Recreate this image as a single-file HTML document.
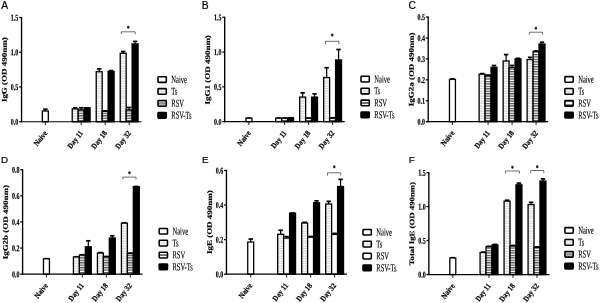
<!DOCTYPE html>
<html><head><meta charset="utf-8"><title>Figure</title>
<style>html,body{margin:0;padding:0;background:#fff}svg{display:block}</style></head>
<body>
<svg width="600" height="303" viewBox="0 0 600 303">
<defs>
<pattern id="dots" width="2.5" height="2.5" patternUnits="userSpaceOnUse">
<rect width="2.5" height="2.5" fill="#fff"/>
<rect x="0.3" y="0.6" width="1.9" height="0.9" fill="#b8b8b8"/>
</pattern>
<pattern id="stripes" width="4" height="2.45" patternUnits="userSpaceOnUse">
<rect width="4" height="2.45" fill="#fff"/>
<rect x="0" y="0" width="4" height="1.25" fill="#505050"/>
</pattern>
<linearGradient id="lstripe" x1="0" y1="0" x2="0" y2="1"><stop offset="0" stop-color="#d8d8d8"/><stop offset="0.5" stop-color="#8c8c8c"/><stop offset="1" stop-color="#d8d8d8"/></linearGradient>
<linearGradient id="ldots" x1="0" y1="0" x2="0" y2="1"><stop offset="0" stop-color="#fff"/><stop offset="0.5" stop-color="#e2e2e2"/><stop offset="1" stop-color="#fff"/></linearGradient>
<linearGradient id="lmid" x1="0" y1="0" x2="0" y2="1"><stop offset="0" stop-color="#fff"/><stop offset="0.3" stop-color="#fff"/><stop offset="0.42" stop-color="#707070"/><stop offset="0.62" stop-color="#707070"/><stop offset="0.74" stop-color="#fff"/><stop offset="1" stop-color="#fff"/></linearGradient>
<linearGradient id="ledge" x1="0" y1="0" x2="0" y2="1"><stop offset="0" stop-color="#606060"/><stop offset="0.25" stop-color="#606060"/><stop offset="0.38" stop-color="#fff"/><stop offset="0.62" stop-color="#fff"/><stop offset="0.75" stop-color="#606060"/><stop offset="1" stop-color="#606060"/></linearGradient>
</defs>
<rect width="600" height="303" fill="#fff"/>
<line x1="45.35" y1="110.98" x2="45.35" y2="108.89" stroke="#000" stroke-width="1.25"/>
<line x1="43.15" y1="109.19" x2="47.55" y2="109.19" stroke="#000" stroke-width="1.7"/>
<rect x="42.37" y="110.98" width="5.96" height="10.77" fill="#fff" stroke="#000" stroke-width="1.3"/>
<line x1="75.20" y1="108.89" x2="75.20" y2="107.50" stroke="#000" stroke-width="1.25"/>
<line x1="73.00" y1="107.80" x2="77.41" y2="107.80" stroke="#000" stroke-width="1.7"/>
<rect x="72.23" y="108.89" width="5.95" height="12.86" fill="url(#dots)" stroke="#000" stroke-width="1.3"/>
<line x1="81.16" y1="109.94" x2="81.16" y2="107.50" stroke="#000" stroke-width="1.25"/>
<line x1="78.95" y1="107.80" x2="83.36" y2="107.80" stroke="#000" stroke-width="1.7"/>
<rect x="78.18" y="109.94" width="5.95" height="11.81" fill="url(#stripes)" stroke="#000" stroke-width="1.3"/>
<line x1="87.11" y1="107.85" x2="87.11" y2="107.50" stroke="#000" stroke-width="1.25"/>
<line x1="84.91" y1="107.80" x2="89.31" y2="107.80" stroke="#000" stroke-width="1.7"/>
<rect x="84.13" y="107.85" width="5.95" height="13.90" fill="#000" stroke="#000" stroke-width="1.3"/>
<line x1="99.20" y1="71.71" x2="99.20" y2="68.58" stroke="#000" stroke-width="1.25"/>
<line x1="97.00" y1="68.88" x2="101.41" y2="68.88" stroke="#000" stroke-width="1.7"/>
<rect x="96.23" y="71.71" width="5.95" height="50.04" fill="url(#dots)" stroke="#000" stroke-width="1.3"/>
<line x1="105.16" y1="111.33" x2="105.16" y2="110.63" stroke="#000" stroke-width="1.25"/>
<line x1="102.95" y1="110.93" x2="107.36" y2="110.93" stroke="#000" stroke-width="1.7"/>
<rect x="102.18" y="111.33" width="5.95" height="10.42" fill="url(#stripes)" stroke="#000" stroke-width="1.3"/>
<line x1="111.11" y1="71.36" x2="111.11" y2="70.32" stroke="#000" stroke-width="1.25"/>
<line x1="108.91" y1="70.62" x2="113.31" y2="70.62" stroke="#000" stroke-width="1.7"/>
<rect x="108.13" y="71.36" width="5.95" height="50.39" fill="#000" stroke="#000" stroke-width="1.3"/>
<line x1="123.20" y1="53.29" x2="123.20" y2="51.21" stroke="#000" stroke-width="1.25"/>
<line x1="121.00" y1="51.51" x2="125.41" y2="51.51" stroke="#000" stroke-width="1.7"/>
<rect x="120.23" y="53.29" width="5.95" height="68.46" fill="url(#dots)" stroke="#000" stroke-width="1.3"/>
<line x1="129.16" y1="109.94" x2="129.16" y2="107.16" stroke="#000" stroke-width="1.25"/>
<line x1="126.95" y1="107.45" x2="131.35" y2="107.45" stroke="#000" stroke-width="1.7"/>
<rect x="126.18" y="109.94" width="5.95" height="11.81" fill="url(#stripes)" stroke="#000" stroke-width="1.3"/>
<line x1="135.10" y1="43.91" x2="135.10" y2="41.13" stroke="#000" stroke-width="1.25"/>
<line x1="132.91" y1="41.43" x2="137.30" y2="41.43" stroke="#000" stroke-width="1.7"/>
<rect x="132.13" y="43.91" width="5.95" height="77.84" fill="#000" stroke="#000" stroke-width="1.3"/>
<line x1="21.55" y1="16.90" x2="21.55" y2="122.25" stroke="#000" stroke-width="1.35"/>
<line x1="21.05" y1="121.75" x2="141.55" y2="121.75" stroke="#000" stroke-width="1.2"/>
<line x1="19.15" y1="121.75" x2="21.55" y2="121.75" stroke="#000" stroke-width="1.25"/>
<text transform="translate(18.35,124.85) scale(0.68,1) rotate(0.4)" font-family="Liberation Serif, serif" font-size="8.8" font-weight="bold" stroke="#000" stroke-width="0.2" text-anchor="end">0.0</text>
<line x1="19.15" y1="87.00" x2="21.55" y2="87.00" stroke="#000" stroke-width="1.25"/>
<text transform="translate(18.35,90.10) scale(0.68,1) rotate(0.4)" font-family="Liberation Serif, serif" font-size="8.8" font-weight="bold" stroke="#000" stroke-width="0.2" text-anchor="end">0.5</text>
<line x1="19.15" y1="52.25" x2="21.55" y2="52.25" stroke="#000" stroke-width="1.25"/>
<text transform="translate(18.35,55.35) scale(0.68,1) rotate(0.4)" font-family="Liberation Serif, serif" font-size="8.8" font-weight="bold" stroke="#000" stroke-width="0.2" text-anchor="end">1.0</text>
<line x1="19.15" y1="17.50" x2="21.55" y2="17.50" stroke="#000" stroke-width="1.25"/>
<text transform="translate(18.35,20.60) scale(0.68,1) rotate(0.4)" font-family="Liberation Serif, serif" font-size="8.8" font-weight="bold" stroke="#000" stroke-width="0.2" text-anchor="end">1.5</text>
<line x1="45.35" y1="121.75" x2="45.35" y2="125.05" stroke="#000" stroke-width="0.9"/>
<text transform="translate(47.70,133.25) rotate(-52) scale(0.79,0.9)" font-family="Liberation Serif, serif" font-size="8.8" font-weight="bold" stroke="#000" stroke-width="0.2" text-anchor="end">Naive</text>
<line x1="81.16" y1="121.75" x2="81.16" y2="125.05" stroke="#000" stroke-width="0.9"/>
<text transform="translate(83.50,133.25) rotate(-52) scale(0.79,0.9)" font-family="Liberation Serif, serif" font-size="8.8" font-weight="bold" stroke="#000" stroke-width="0.2" text-anchor="end">Day 11</text>
<line x1="105.16" y1="121.75" x2="105.16" y2="125.05" stroke="#000" stroke-width="0.9"/>
<text transform="translate(107.50,133.25) rotate(-52) scale(0.79,0.9)" font-family="Liberation Serif, serif" font-size="8.8" font-weight="bold" stroke="#000" stroke-width="0.2" text-anchor="end">Day 18</text>
<line x1="129.16" y1="121.75" x2="129.16" y2="125.05" stroke="#000" stroke-width="0.9"/>
<text transform="translate(131.50,133.25) rotate(-52) scale(0.79,0.9)" font-family="Liberation Serif, serif" font-size="8.8" font-weight="bold" stroke="#000" stroke-width="0.2" text-anchor="end">Day 32</text>
<text transform="translate(6.60,69.70) scale(0.78,1) rotate(-89.6)" font-family="Liberation Serif, serif" font-size="8.98" font-weight="bold" stroke="#000" stroke-width="0.2" text-anchor="middle">IgG (OD 490nm)</text>
<text x="1.30" y="8.90" font-family="Liberation Sans, sans-serif" font-size="10.3" stroke="#000" stroke-width="0.2">A</text>
<polyline points="121.30,34.20 121.30,31.80 135.20,31.80 135.20,34.20" fill="none" stroke="#222" stroke-width="0.65"/>
<text transform="translate(128.25,30.90) scale(0.7,1) rotate(0.4)" font-family="Liberation Serif, serif" font-size="8" stroke="#000" stroke-width="0.3" text-anchor="middle">*</text>
<rect x="158.00" y="76.70" width="8.3" height="5.7" rx="0.7" fill="#fff" stroke="#000" stroke-width="1.55"/>
<text transform="translate(171.30,82.80) scale(0.62,1) rotate(0.4)" font-family="Liberation Serif, serif" font-size="10.5" stroke="#000" stroke-width="0.15" text-anchor="start">Naive</text>
<rect x="158.00" y="88.60" width="8.3" height="5.7" rx="0.7" fill="url(#ldots)" stroke="#000" stroke-width="1.55"/>
<text transform="translate(171.30,94.70) scale(0.62,1) rotate(0.4)" font-family="Liberation Serif, serif" font-size="10.5" stroke="#000" stroke-width="0.15" text-anchor="start">Ts</text>
<rect x="158.00" y="100.50" width="8.3" height="5.7" rx="0.7" fill="url(#lstripe)" stroke="#000" stroke-width="1.55"/>
<text transform="translate(171.30,106.60) scale(0.62,1) rotate(0.4)" font-family="Liberation Serif, serif" font-size="10.5" stroke="#000" stroke-width="0.15" text-anchor="start">RSV</text>
<rect x="158.00" y="112.40" width="8.3" height="5.7" rx="0.7" fill="#000" stroke="#000" stroke-width="1.55"/>
<text transform="translate(171.30,118.50) scale(0.62,1) rotate(0.4)" font-family="Liberation Serif, serif" font-size="10.5" stroke="#000" stroke-width="0.15" text-anchor="start">RSV-Ts</text>
<line x1="248.90" y1="118.17" x2="248.90" y2="117.82" stroke="#000" stroke-width="1.25"/>
<line x1="246.70" y1="118.12" x2="251.10" y2="118.12" stroke="#000" stroke-width="1.7"/>
<rect x="245.92" y="118.17" width="5.96" height="3.48" fill="#fff" stroke="#000" stroke-width="1.3"/>
<line x1="278.66" y1="118.17" x2="278.66" y2="117.82" stroke="#000" stroke-width="1.25"/>
<line x1="276.46" y1="118.12" x2="280.86" y2="118.12" stroke="#000" stroke-width="1.7"/>
<rect x="275.68" y="118.17" width="5.95" height="3.48" fill="url(#dots)" stroke="#000" stroke-width="1.3"/>
<line x1="284.61" y1="118.17" x2="284.61" y2="117.82" stroke="#000" stroke-width="1.25"/>
<line x1="282.41" y1="118.12" x2="286.81" y2="118.12" stroke="#000" stroke-width="1.7"/>
<rect x="281.63" y="118.17" width="5.95" height="3.48" fill="url(#stripes)" stroke="#000" stroke-width="1.3"/>
<line x1="290.56" y1="117.82" x2="290.56" y2="117.47" stroke="#000" stroke-width="1.25"/>
<line x1="288.36" y1="117.77" x2="292.75" y2="117.77" stroke="#000" stroke-width="1.7"/>
<rect x="287.58" y="117.82" width="5.95" height="3.83" fill="#000" stroke="#000" stroke-width="1.3"/>
<line x1="302.66" y1="97.08" x2="302.66" y2="92.56" stroke="#000" stroke-width="1.25"/>
<line x1="300.46" y1="92.86" x2="304.86" y2="92.86" stroke="#000" stroke-width="1.7"/>
<rect x="299.68" y="97.08" width="5.95" height="24.57" fill="url(#dots)" stroke="#000" stroke-width="1.3"/>
<line x1="308.61" y1="118.17" x2="308.61" y2="117.82" stroke="#000" stroke-width="1.25"/>
<line x1="306.41" y1="118.12" x2="310.81" y2="118.12" stroke="#000" stroke-width="1.7"/>
<rect x="305.63" y="118.17" width="5.95" height="3.48" fill="url(#stripes)" stroke="#000" stroke-width="1.3"/>
<line x1="314.56" y1="97.08" x2="314.56" y2="93.60" stroke="#000" stroke-width="1.25"/>
<line x1="312.36" y1="93.90" x2="316.75" y2="93.90" stroke="#000" stroke-width="1.7"/>
<rect x="311.58" y="97.08" width="5.95" height="24.57" fill="#000" stroke="#000" stroke-width="1.3"/>
<line x1="326.66" y1="77.52" x2="326.66" y2="67.43" stroke="#000" stroke-width="1.25"/>
<line x1="324.46" y1="67.73" x2="328.86" y2="67.73" stroke="#000" stroke-width="1.7"/>
<rect x="323.68" y="77.52" width="5.95" height="44.13" fill="url(#dots)" stroke="#000" stroke-width="1.3"/>
<line x1="332.61" y1="118.17" x2="332.61" y2="117.47" stroke="#000" stroke-width="1.25"/>
<line x1="330.41" y1="117.77" x2="334.81" y2="117.77" stroke="#000" stroke-width="1.7"/>
<rect x="329.63" y="118.17" width="5.95" height="3.48" fill="url(#stripes)" stroke="#000" stroke-width="1.3"/>
<line x1="338.56" y1="59.98" x2="338.56" y2="49.20" stroke="#000" stroke-width="1.25"/>
<line x1="336.36" y1="49.50" x2="340.75" y2="49.50" stroke="#000" stroke-width="1.7"/>
<rect x="335.58" y="59.98" width="5.95" height="61.67" fill="#000" stroke="#000" stroke-width="1.3"/>
<line x1="224.70" y1="16.65" x2="224.70" y2="122.15" stroke="#000" stroke-width="1.35"/>
<line x1="224.20" y1="121.65" x2="344.70" y2="121.65" stroke="#000" stroke-width="1.2"/>
<line x1="222.30" y1="121.65" x2="224.70" y2="121.65" stroke="#000" stroke-width="1.25"/>
<text transform="translate(221.50,124.75) scale(0.68,1) rotate(0.4)" font-family="Liberation Serif, serif" font-size="8.8" font-weight="bold" stroke="#000" stroke-width="0.2" text-anchor="end">0.0</text>
<line x1="222.30" y1="86.85" x2="224.70" y2="86.85" stroke="#000" stroke-width="1.25"/>
<text transform="translate(221.50,89.95) scale(0.68,1) rotate(0.4)" font-family="Liberation Serif, serif" font-size="8.8" font-weight="bold" stroke="#000" stroke-width="0.2" text-anchor="end">0.5</text>
<line x1="222.30" y1="52.05" x2="224.70" y2="52.05" stroke="#000" stroke-width="1.25"/>
<text transform="translate(221.50,55.15) scale(0.68,1) rotate(0.4)" font-family="Liberation Serif, serif" font-size="8.8" font-weight="bold" stroke="#000" stroke-width="0.2" text-anchor="end">1.0</text>
<line x1="222.30" y1="17.25" x2="224.70" y2="17.25" stroke="#000" stroke-width="1.25"/>
<text transform="translate(221.50,20.35) scale(0.68,1) rotate(0.4)" font-family="Liberation Serif, serif" font-size="8.8" font-weight="bold" stroke="#000" stroke-width="0.2" text-anchor="end">1.5</text>
<line x1="248.90" y1="121.65" x2="248.90" y2="124.95" stroke="#000" stroke-width="0.9"/>
<text transform="translate(251.25,133.15) rotate(-52) scale(0.79,0.9)" font-family="Liberation Serif, serif" font-size="8.8" font-weight="bold" stroke="#000" stroke-width="0.2" text-anchor="end">Naive</text>
<line x1="284.61" y1="121.65" x2="284.61" y2="124.95" stroke="#000" stroke-width="0.9"/>
<text transform="translate(286.96,133.15) rotate(-52) scale(0.79,0.9)" font-family="Liberation Serif, serif" font-size="8.8" font-weight="bold" stroke="#000" stroke-width="0.2" text-anchor="end">Day 11</text>
<line x1="308.61" y1="121.65" x2="308.61" y2="124.95" stroke="#000" stroke-width="0.9"/>
<text transform="translate(310.96,133.15) rotate(-52) scale(0.79,0.9)" font-family="Liberation Serif, serif" font-size="8.8" font-weight="bold" stroke="#000" stroke-width="0.2" text-anchor="end">Day 18</text>
<line x1="332.61" y1="121.65" x2="332.61" y2="124.95" stroke="#000" stroke-width="0.9"/>
<text transform="translate(334.96,133.15) rotate(-52) scale(0.79,0.9)" font-family="Liberation Serif, serif" font-size="8.8" font-weight="bold" stroke="#000" stroke-width="0.2" text-anchor="end">Day 32</text>
<text transform="translate(209.90,69.80) scale(0.78,1) rotate(-89.6)" font-family="Liberation Serif, serif" font-size="8.98" font-weight="bold" stroke="#000" stroke-width="0.2" text-anchor="middle">IgG1 (OD 490nm)</text>
<text x="201.80" y="8.90" font-family="Liberation Sans, sans-serif" font-size="10.3" stroke="#000" stroke-width="0.2">B</text>
<polyline points="325.40,44.30 325.40,41.30 338.80,41.30 338.80,44.30" fill="none" stroke="#222" stroke-width="0.65"/>
<text transform="translate(332.10,38.80) scale(0.7,1) rotate(0.4)" font-family="Liberation Serif, serif" font-size="8" stroke="#000" stroke-width="0.3" text-anchor="middle">*</text>
<rect x="361.00" y="76.30" width="8.3" height="5.7" rx="0.7" fill="#fff" stroke="#000" stroke-width="1.55"/>
<text transform="translate(374.30,82.40) scale(0.62,1) rotate(0.4)" font-family="Liberation Serif, serif" font-size="10.5" stroke="#000" stroke-width="0.15" text-anchor="start">Naive</text>
<rect x="361.00" y="88.20" width="8.3" height="5.7" rx="0.7" fill="url(#ldots)" stroke="#000" stroke-width="1.55"/>
<text transform="translate(374.30,94.30) scale(0.62,1) rotate(0.4)" font-family="Liberation Serif, serif" font-size="10.5" stroke="#000" stroke-width="0.15" text-anchor="start">Ts</text>
<rect x="361.00" y="100.10" width="8.3" height="5.7" rx="0.7" fill="url(#lmid)" stroke="#000" stroke-width="1.55"/>
<text transform="translate(374.30,106.20) scale(0.62,1) rotate(0.4)" font-family="Liberation Serif, serif" font-size="10.5" stroke="#000" stroke-width="0.15" text-anchor="start">RSV</text>
<rect x="361.00" y="112.00" width="8.3" height="5.7" rx="0.7" fill="#000" stroke="#000" stroke-width="1.55"/>
<text transform="translate(374.30,118.10) scale(0.62,1) rotate(0.4)" font-family="Liberation Serif, serif" font-size="10.5" stroke="#000" stroke-width="0.15" text-anchor="start">RSV-Ts</text>
<line x1="452.45" y1="79.39" x2="452.45" y2="78.55" stroke="#000" stroke-width="1.25"/>
<line x1="450.25" y1="78.85" x2="454.65" y2="78.85" stroke="#000" stroke-width="1.7"/>
<rect x="449.47" y="79.39" width="5.96" height="42.26" fill="#fff" stroke="#000" stroke-width="1.3"/>
<line x1="482.11" y1="74.16" x2="482.11" y2="73.32" stroke="#000" stroke-width="1.25"/>
<line x1="479.91" y1="73.62" x2="484.31" y2="73.62" stroke="#000" stroke-width="1.7"/>
<rect x="479.13" y="74.16" width="5.95" height="47.49" fill="url(#dots)" stroke="#000" stroke-width="1.3"/>
<line x1="488.06" y1="75.63" x2="488.06" y2="74.79" stroke="#000" stroke-width="1.25"/>
<line x1="485.86" y1="75.09" x2="490.25" y2="75.09" stroke="#000" stroke-width="1.7"/>
<rect x="485.08" y="75.63" width="5.95" height="46.02" fill="url(#stripes)" stroke="#000" stroke-width="1.3"/>
<line x1="494.00" y1="67.26" x2="494.00" y2="65.17" stroke="#000" stroke-width="1.25"/>
<line x1="491.81" y1="65.47" x2="496.20" y2="65.47" stroke="#000" stroke-width="1.7"/>
<rect x="491.03" y="67.26" width="5.95" height="54.39" fill="#000" stroke="#000" stroke-width="1.3"/>
<line x1="506.11" y1="60.98" x2="506.11" y2="54.29" stroke="#000" stroke-width="1.25"/>
<line x1="503.91" y1="54.59" x2="508.31" y2="54.59" stroke="#000" stroke-width="1.7"/>
<rect x="503.13" y="60.98" width="5.95" height="60.67" fill="url(#dots)" stroke="#000" stroke-width="1.3"/>
<line x1="512.05" y1="67.68" x2="512.05" y2="65.17" stroke="#000" stroke-width="1.25"/>
<line x1="509.85" y1="65.47" x2="514.25" y2="65.47" stroke="#000" stroke-width="1.7"/>
<rect x="509.08" y="67.68" width="5.95" height="53.97" fill="url(#stripes)" stroke="#000" stroke-width="1.3"/>
<line x1="518.00" y1="58.89" x2="518.00" y2="58.05" stroke="#000" stroke-width="1.25"/>
<line x1="515.80" y1="58.35" x2="520.21" y2="58.35" stroke="#000" stroke-width="1.7"/>
<rect x="515.03" y="58.89" width="5.95" height="62.76" fill="#000" stroke="#000" stroke-width="1.3"/>
<line x1="530.11" y1="59.52" x2="530.11" y2="57.01" stroke="#000" stroke-width="1.25"/>
<line x1="527.90" y1="57.31" x2="532.31" y2="57.31" stroke="#000" stroke-width="1.7"/>
<rect x="527.13" y="59.52" width="5.95" height="62.13" fill="url(#dots)" stroke="#000" stroke-width="1.3"/>
<line x1="536.06" y1="51.36" x2="536.06" y2="50.73" stroke="#000" stroke-width="1.25"/>
<line x1="533.86" y1="51.03" x2="538.26" y2="51.03" stroke="#000" stroke-width="1.7"/>
<rect x="533.08" y="51.36" width="5.95" height="70.29" fill="url(#stripes)" stroke="#000" stroke-width="1.3"/>
<line x1="542.00" y1="44.04" x2="542.00" y2="41.94" stroke="#000" stroke-width="1.25"/>
<line x1="539.80" y1="42.24" x2="544.21" y2="42.24" stroke="#000" stroke-width="1.7"/>
<rect x="539.03" y="44.04" width="5.95" height="77.61" fill="#000" stroke="#000" stroke-width="1.3"/>
<line x1="428.20" y1="16.45" x2="428.20" y2="122.15" stroke="#000" stroke-width="1.35"/>
<line x1="427.70" y1="121.65" x2="548.20" y2="121.65" stroke="#000" stroke-width="1.2"/>
<line x1="425.80" y1="121.65" x2="428.20" y2="121.65" stroke="#000" stroke-width="1.25"/>
<text transform="translate(425.00,124.75) scale(0.68,1) rotate(0.4)" font-family="Liberation Serif, serif" font-size="8.8" font-weight="bold" stroke="#000" stroke-width="0.2" text-anchor="end">0.0</text>
<line x1="425.80" y1="100.73" x2="428.20" y2="100.73" stroke="#000" stroke-width="1.25"/>
<text transform="translate(425.00,103.83) scale(0.68,1) rotate(0.4)" font-family="Liberation Serif, serif" font-size="8.8" font-weight="bold" stroke="#000" stroke-width="0.2" text-anchor="end">0.1</text>
<line x1="425.80" y1="79.81" x2="428.20" y2="79.81" stroke="#000" stroke-width="1.25"/>
<text transform="translate(425.00,82.91) scale(0.68,1) rotate(0.4)" font-family="Liberation Serif, serif" font-size="8.8" font-weight="bold" stroke="#000" stroke-width="0.2" text-anchor="end">0.2</text>
<line x1="425.80" y1="58.89" x2="428.20" y2="58.89" stroke="#000" stroke-width="1.25"/>
<text transform="translate(425.00,61.99) scale(0.68,1) rotate(0.4)" font-family="Liberation Serif, serif" font-size="8.8" font-weight="bold" stroke="#000" stroke-width="0.2" text-anchor="end">0.3</text>
<line x1="425.80" y1="37.97" x2="428.20" y2="37.97" stroke="#000" stroke-width="1.25"/>
<text transform="translate(425.00,41.07) scale(0.68,1) rotate(0.4)" font-family="Liberation Serif, serif" font-size="8.8" font-weight="bold" stroke="#000" stroke-width="0.2" text-anchor="end">0.4</text>
<line x1="425.80" y1="17.05" x2="428.20" y2="17.05" stroke="#000" stroke-width="1.25"/>
<text transform="translate(425.00,20.15) scale(0.68,1) rotate(0.4)" font-family="Liberation Serif, serif" font-size="8.8" font-weight="bold" stroke="#000" stroke-width="0.2" text-anchor="end">0.5</text>
<line x1="452.45" y1="121.65" x2="452.45" y2="124.95" stroke="#000" stroke-width="0.9"/>
<text transform="translate(454.80,133.15) rotate(-52) scale(0.79,0.9)" font-family="Liberation Serif, serif" font-size="8.8" font-weight="bold" stroke="#000" stroke-width="0.2" text-anchor="end">Naive</text>
<line x1="488.06" y1="121.65" x2="488.06" y2="124.95" stroke="#000" stroke-width="0.9"/>
<text transform="translate(490.41,133.15) rotate(-52) scale(0.79,0.9)" font-family="Liberation Serif, serif" font-size="8.8" font-weight="bold" stroke="#000" stroke-width="0.2" text-anchor="end">Day 11</text>
<line x1="512.05" y1="121.65" x2="512.05" y2="124.95" stroke="#000" stroke-width="0.9"/>
<text transform="translate(514.40,133.15) rotate(-52) scale(0.79,0.9)" font-family="Liberation Serif, serif" font-size="8.8" font-weight="bold" stroke="#000" stroke-width="0.2" text-anchor="end">Day 18</text>
<line x1="536.05" y1="121.65" x2="536.05" y2="124.95" stroke="#000" stroke-width="0.9"/>
<text transform="translate(538.40,133.15) rotate(-52) scale(0.79,0.9)" font-family="Liberation Serif, serif" font-size="8.8" font-weight="bold" stroke="#000" stroke-width="0.2" text-anchor="end">Day 32</text>
<text transform="translate(413.70,69.40) scale(0.78,1) rotate(-89.6)" font-family="Liberation Serif, serif" font-size="8.98" font-weight="bold" stroke="#000" stroke-width="0.2" text-anchor="middle">IgG2a (OD 490nm)</text>
<text x="408.50" y="8.90" font-family="Liberation Sans, sans-serif" font-size="10.3" stroke="#000" stroke-width="0.2">C</text>
<polyline points="529.30,34.70 529.30,32.20 542.50,32.20 542.50,34.70" fill="none" stroke="#222" stroke-width="0.65"/>
<text transform="translate(535.90,31.90) scale(0.7,1) rotate(0.4)" font-family="Liberation Serif, serif" font-size="8" stroke="#000" stroke-width="0.3" text-anchor="middle">*</text>
<rect x="564.90" y="76.60" width="8.3" height="5.7" rx="0.7" fill="#fff" stroke="#000" stroke-width="1.55"/>
<text transform="translate(578.20,82.70) scale(0.62,1) rotate(0.4)" font-family="Liberation Serif, serif" font-size="10.5" stroke="#000" stroke-width="0.15" text-anchor="start">Naive</text>
<rect x="564.90" y="88.50" width="8.3" height="5.7" rx="0.7" fill="url(#ldots)" stroke="#000" stroke-width="1.55"/>
<text transform="translate(578.20,94.60) scale(0.62,1) rotate(0.4)" font-family="Liberation Serif, serif" font-size="10.5" stroke="#000" stroke-width="0.15" text-anchor="start">Ts</text>
<rect x="564.90" y="100.40" width="8.3" height="5.7" rx="0.7" fill="url(#ledge)" stroke="#000" stroke-width="1.55"/>
<text transform="translate(578.20,106.50) scale(0.62,1) rotate(0.4)" font-family="Liberation Serif, serif" font-size="10.5" stroke="#000" stroke-width="0.15" text-anchor="start">RSV</text>
<rect x="564.90" y="112.30" width="8.3" height="5.7" rx="0.7" fill="#000" stroke="#000" stroke-width="1.55"/>
<text transform="translate(578.20,118.40) scale(0.62,1) rotate(0.4)" font-family="Liberation Serif, serif" font-size="10.5" stroke="#000" stroke-width="0.15" text-anchor="start">RSV-Ts</text>
<line x1="46.45" y1="258.79" x2="46.45" y2="258.39" stroke="#000" stroke-width="1.25"/>
<line x1="44.25" y1="258.69" x2="48.65" y2="258.69" stroke="#000" stroke-width="1.7"/>
<rect x="43.47" y="258.79" width="5.96" height="15.41" fill="#fff" stroke="#000" stroke-width="1.3"/>
<line x1="76.41" y1="256.96" x2="76.41" y2="256.44" stroke="#000" stroke-width="1.25"/>
<line x1="74.20" y1="256.74" x2="78.61" y2="256.74" stroke="#000" stroke-width="1.7"/>
<rect x="73.43" y="256.96" width="5.95" height="17.24" fill="url(#dots)" stroke="#000" stroke-width="1.3"/>
<line x1="82.36" y1="255.00" x2="82.36" y2="254.48" stroke="#000" stroke-width="1.25"/>
<line x1="80.16" y1="254.78" x2="84.56" y2="254.78" stroke="#000" stroke-width="1.7"/>
<rect x="79.38" y="255.00" width="5.95" height="19.20" fill="url(#stripes)" stroke="#000" stroke-width="1.3"/>
<line x1="88.31" y1="246.77" x2="88.31" y2="240.50" stroke="#000" stroke-width="1.25"/>
<line x1="86.11" y1="240.80" x2="90.51" y2="240.80" stroke="#000" stroke-width="1.7"/>
<rect x="85.33" y="246.77" width="5.95" height="27.43" fill="#000" stroke="#000" stroke-width="1.3"/>
<line x1="100.41" y1="253.04" x2="100.41" y2="252.25" stroke="#000" stroke-width="1.25"/>
<line x1="98.20" y1="252.56" x2="102.61" y2="252.56" stroke="#000" stroke-width="1.7"/>
<rect x="97.43" y="253.04" width="5.95" height="21.16" fill="url(#dots)" stroke="#000" stroke-width="1.3"/>
<line x1="106.36" y1="256.70" x2="106.36" y2="256.17" stroke="#000" stroke-width="1.25"/>
<line x1="104.16" y1="256.47" x2="108.56" y2="256.47" stroke="#000" stroke-width="1.7"/>
<rect x="103.38" y="256.70" width="5.95" height="17.50" fill="url(#stripes)" stroke="#000" stroke-width="1.3"/>
<line x1="112.31" y1="238.02" x2="112.31" y2="235.53" stroke="#000" stroke-width="1.25"/>
<line x1="110.11" y1="235.83" x2="114.51" y2="235.83" stroke="#000" stroke-width="1.7"/>
<rect x="109.33" y="238.02" width="5.95" height="36.18" fill="#000" stroke="#000" stroke-width="1.3"/>
<line x1="124.41" y1="223.13" x2="124.41" y2="222.47" stroke="#000" stroke-width="1.25"/>
<line x1="122.20" y1="222.77" x2="126.61" y2="222.77" stroke="#000" stroke-width="1.7"/>
<rect x="121.43" y="223.13" width="5.95" height="51.07" fill="url(#dots)" stroke="#000" stroke-width="1.3"/>
<line x1="130.36" y1="253.56" x2="130.36" y2="252.78" stroke="#000" stroke-width="1.25"/>
<line x1="128.16" y1="253.08" x2="132.56" y2="253.08" stroke="#000" stroke-width="1.7"/>
<rect x="127.38" y="253.56" width="5.95" height="20.64" fill="url(#stripes)" stroke="#000" stroke-width="1.3"/>
<line x1="136.31" y1="186.68" x2="136.31" y2="186.16" stroke="#000" stroke-width="1.25"/>
<line x1="134.11" y1="186.46" x2="138.50" y2="186.46" stroke="#000" stroke-width="1.7"/>
<rect x="133.33" y="186.68" width="5.95" height="87.52" fill="#000" stroke="#000" stroke-width="1.3"/>
<line x1="22.60" y1="169.10" x2="22.60" y2="274.70" stroke="#000" stroke-width="1.35"/>
<line x1="22.10" y1="274.20" x2="142.60" y2="274.20" stroke="#000" stroke-width="1.2"/>
<line x1="20.20" y1="274.20" x2="22.60" y2="274.20" stroke="#000" stroke-width="1.25"/>
<text transform="translate(19.40,277.30) scale(0.68,1) rotate(0.4)" font-family="Liberation Serif, serif" font-size="8.8" font-weight="bold" stroke="#000" stroke-width="0.2" text-anchor="end">0.0</text>
<line x1="20.20" y1="248.07" x2="22.60" y2="248.07" stroke="#000" stroke-width="1.25"/>
<text transform="translate(19.40,251.17) scale(0.68,1) rotate(0.4)" font-family="Liberation Serif, serif" font-size="8.8" font-weight="bold" stroke="#000" stroke-width="0.2" text-anchor="end">0.2</text>
<line x1="20.20" y1="221.95" x2="22.60" y2="221.95" stroke="#000" stroke-width="1.25"/>
<text transform="translate(19.40,225.05) scale(0.68,1) rotate(0.4)" font-family="Liberation Serif, serif" font-size="8.8" font-weight="bold" stroke="#000" stroke-width="0.2" text-anchor="end">0.4</text>
<line x1="20.20" y1="195.82" x2="22.60" y2="195.82" stroke="#000" stroke-width="1.25"/>
<text transform="translate(19.40,198.92) scale(0.68,1) rotate(0.4)" font-family="Liberation Serif, serif" font-size="8.8" font-weight="bold" stroke="#000" stroke-width="0.2" text-anchor="end">0.6</text>
<line x1="20.20" y1="169.70" x2="22.60" y2="169.70" stroke="#000" stroke-width="1.25"/>
<text transform="translate(19.40,172.80) scale(0.68,1) rotate(0.4)" font-family="Liberation Serif, serif" font-size="8.8" font-weight="bold" stroke="#000" stroke-width="0.2" text-anchor="end">0.8</text>
<line x1="46.45" y1="274.20" x2="46.45" y2="277.50" stroke="#000" stroke-width="0.9"/>
<text transform="translate(48.40,285.70) rotate(-52) scale(0.79,0.9)" font-family="Liberation Serif, serif" font-size="8.8" font-weight="bold" stroke="#000" stroke-width="0.2" text-anchor="end">Naive</text>
<line x1="82.36" y1="274.20" x2="82.36" y2="277.50" stroke="#000" stroke-width="0.9"/>
<text transform="translate(84.30,285.70) rotate(-52) scale(0.79,0.9)" font-family="Liberation Serif, serif" font-size="8.8" font-weight="bold" stroke="#000" stroke-width="0.2" text-anchor="end">Day 11</text>
<line x1="106.36" y1="274.20" x2="106.36" y2="277.50" stroke="#000" stroke-width="0.9"/>
<text transform="translate(108.30,285.70) rotate(-52) scale(0.79,0.9)" font-family="Liberation Serif, serif" font-size="8.8" font-weight="bold" stroke="#000" stroke-width="0.2" text-anchor="end">Day 18</text>
<line x1="130.36" y1="274.20" x2="130.36" y2="277.50" stroke="#000" stroke-width="0.9"/>
<text transform="translate(132.31,285.70) rotate(-52) scale(0.79,0.9)" font-family="Liberation Serif, serif" font-size="8.8" font-weight="bold" stroke="#000" stroke-width="0.2" text-anchor="end">Day 32</text>
<text transform="translate(7.90,222.20) scale(0.78,1) rotate(-89.6)" font-family="Liberation Serif, serif" font-size="8.98" font-weight="bold" stroke="#000" stroke-width="0.2" text-anchor="middle">IgG2b (OD 490nm)</text>
<text x="1.00" y="163.00" font-family="Liberation Sans, sans-serif" font-size="9.9" stroke="#000" stroke-width="0.2">D</text>
<polyline points="122.80,179.60 122.80,177.10 136.00,177.10 136.00,179.60" fill="none" stroke="#222" stroke-width="0.65"/>
<text transform="translate(129.40,176.60) scale(0.7,1) rotate(0.4)" font-family="Liberation Serif, serif" font-size="8" stroke="#000" stroke-width="0.3" text-anchor="middle">*</text>
<rect x="159.20" y="228.40" width="8.3" height="5.7" rx="0.7" fill="#fff" stroke="#000" stroke-width="1.55"/>
<text transform="translate(172.50,234.50) scale(0.62,1) rotate(0.4)" font-family="Liberation Serif, serif" font-size="10.5" stroke="#000" stroke-width="0.15" text-anchor="start">Naive</text>
<rect x="159.20" y="240.30" width="8.3" height="5.7" rx="0.7" fill="url(#ldots)" stroke="#000" stroke-width="1.55"/>
<text transform="translate(172.50,246.40) scale(0.62,1) rotate(0.4)" font-family="Liberation Serif, serif" font-size="10.5" stroke="#000" stroke-width="0.15" text-anchor="start">Ts</text>
<rect x="159.20" y="252.20" width="8.3" height="5.7" rx="0.7" fill="url(#lmid)" stroke="#000" stroke-width="1.55"/>
<text transform="translate(172.50,258.30) scale(0.62,1) rotate(0.4)" font-family="Liberation Serif, serif" font-size="10.5" stroke="#000" stroke-width="0.15" text-anchor="start">RSV</text>
<rect x="159.20" y="264.10" width="8.3" height="5.7" rx="0.7" fill="#000" stroke="#000" stroke-width="1.55"/>
<text transform="translate(172.50,270.20) scale(0.62,1) rotate(0.4)" font-family="Liberation Serif, serif" font-size="10.5" stroke="#000" stroke-width="0.15" text-anchor="start">RSV-Ts</text>
<line x1="250.70" y1="242.04" x2="250.70" y2="238.75" stroke="#000" stroke-width="1.25"/>
<line x1="248.50" y1="239.05" x2="252.90" y2="239.05" stroke="#000" stroke-width="1.7"/>
<rect x="247.72" y="242.04" width="5.96" height="32.16" fill="#fff" stroke="#000" stroke-width="1.3"/>
<line x1="280.66" y1="234.26" x2="280.66" y2="229.93" stroke="#000" stroke-width="1.25"/>
<line x1="278.46" y1="230.23" x2="282.86" y2="230.23" stroke="#000" stroke-width="1.7"/>
<rect x="277.68" y="234.26" width="5.95" height="39.94" fill="url(#dots)" stroke="#000" stroke-width="1.3"/>
<line x1="286.61" y1="238.06" x2="286.61" y2="236.33" stroke="#000" stroke-width="1.25"/>
<line x1="284.41" y1="236.63" x2="288.81" y2="236.63" stroke="#000" stroke-width="1.7"/>
<rect x="283.63" y="238.06" width="5.95" height="36.14" fill="#fff" stroke="#000" stroke-width="1.3"/>
<line x1="292.56" y1="213.16" x2="292.56" y2="212.81" stroke="#000" stroke-width="1.25"/>
<line x1="290.36" y1="213.11" x2="294.75" y2="213.11" stroke="#000" stroke-width="1.7"/>
<rect x="289.58" y="213.16" width="5.95" height="61.04" fill="#000" stroke="#000" stroke-width="1.3"/>
<line x1="304.66" y1="223.02" x2="304.66" y2="221.98" stroke="#000" stroke-width="1.25"/>
<line x1="302.46" y1="222.28" x2="306.86" y2="222.28" stroke="#000" stroke-width="1.7"/>
<rect x="301.68" y="223.02" width="5.95" height="51.18" fill="url(#dots)" stroke="#000" stroke-width="1.3"/>
<line x1="310.61" y1="237.20" x2="310.61" y2="236.16" stroke="#000" stroke-width="1.25"/>
<line x1="308.41" y1="236.46" x2="312.81" y2="236.46" stroke="#000" stroke-width="1.7"/>
<rect x="307.63" y="237.20" width="5.95" height="37.00" fill="#fff" stroke="#000" stroke-width="1.3"/>
<line x1="316.56" y1="202.79" x2="316.56" y2="200.54" stroke="#000" stroke-width="1.25"/>
<line x1="314.36" y1="200.84" x2="318.75" y2="200.84" stroke="#000" stroke-width="1.7"/>
<rect x="313.58" y="202.79" width="5.95" height="71.41" fill="#000" stroke="#000" stroke-width="1.3"/>
<line x1="328.66" y1="204.00" x2="328.66" y2="201.06" stroke="#000" stroke-width="1.25"/>
<line x1="326.46" y1="201.36" x2="330.86" y2="201.36" stroke="#000" stroke-width="1.7"/>
<rect x="325.68" y="204.00" width="5.95" height="70.20" fill="url(#dots)" stroke="#000" stroke-width="1.3"/>
<line x1="334.61" y1="234.43" x2="334.61" y2="233.05" stroke="#000" stroke-width="1.25"/>
<line x1="332.41" y1="233.35" x2="336.81" y2="233.35" stroke="#000" stroke-width="1.7"/>
<rect x="331.63" y="234.43" width="5.95" height="39.77" fill="#fff" stroke="#000" stroke-width="1.3"/>
<line x1="340.56" y1="186.53" x2="340.56" y2="179.10" stroke="#000" stroke-width="1.25"/>
<line x1="338.36" y1="179.40" x2="342.75" y2="179.40" stroke="#000" stroke-width="1.7"/>
<rect x="337.58" y="186.53" width="5.95" height="87.67" fill="#000" stroke="#000" stroke-width="1.3"/>
<line x1="226.45" y1="169.85" x2="226.45" y2="274.70" stroke="#000" stroke-width="1.35"/>
<line x1="225.95" y1="274.20" x2="346.95" y2="274.20" stroke="#000" stroke-width="1.2"/>
<line x1="224.05" y1="274.20" x2="226.45" y2="274.20" stroke="#000" stroke-width="1.25"/>
<text transform="translate(223.25,277.30) scale(0.68,1) rotate(0.4)" font-family="Liberation Serif, serif" font-size="8.8" font-weight="bold" stroke="#000" stroke-width="0.2" text-anchor="end">0.0</text>
<line x1="224.05" y1="239.62" x2="226.45" y2="239.62" stroke="#000" stroke-width="1.25"/>
<text transform="translate(223.25,242.72) scale(0.68,1) rotate(0.4)" font-family="Liberation Serif, serif" font-size="8.8" font-weight="bold" stroke="#000" stroke-width="0.2" text-anchor="end">0.2</text>
<line x1="224.05" y1="205.03" x2="226.45" y2="205.03" stroke="#000" stroke-width="1.25"/>
<text transform="translate(223.25,208.13) scale(0.68,1) rotate(0.4)" font-family="Liberation Serif, serif" font-size="8.8" font-weight="bold" stroke="#000" stroke-width="0.2" text-anchor="end">0.4</text>
<line x1="224.05" y1="170.45" x2="226.45" y2="170.45" stroke="#000" stroke-width="1.25"/>
<text transform="translate(223.25,173.55) scale(0.68,1) rotate(0.4)" font-family="Liberation Serif, serif" font-size="8.8" font-weight="bold" stroke="#000" stroke-width="0.2" text-anchor="end">0.6</text>
<line x1="250.70" y1="274.20" x2="250.70" y2="277.50" stroke="#000" stroke-width="0.9"/>
<text transform="translate(252.65,285.70) rotate(-52) scale(0.79,0.9)" font-family="Liberation Serif, serif" font-size="8.8" font-weight="bold" stroke="#000" stroke-width="0.2" text-anchor="end">Naive</text>
<line x1="286.61" y1="274.20" x2="286.61" y2="277.50" stroke="#000" stroke-width="0.9"/>
<text transform="translate(288.56,285.70) rotate(-52) scale(0.79,0.9)" font-family="Liberation Serif, serif" font-size="8.8" font-weight="bold" stroke="#000" stroke-width="0.2" text-anchor="end">Day 11</text>
<line x1="310.61" y1="274.20" x2="310.61" y2="277.50" stroke="#000" stroke-width="0.9"/>
<text transform="translate(312.56,285.70) rotate(-52) scale(0.79,0.9)" font-family="Liberation Serif, serif" font-size="8.8" font-weight="bold" stroke="#000" stroke-width="0.2" text-anchor="end">Day 18</text>
<line x1="334.61" y1="274.20" x2="334.61" y2="277.50" stroke="#000" stroke-width="0.9"/>
<text transform="translate(336.56,285.70) rotate(-52) scale(0.79,0.9)" font-family="Liberation Serif, serif" font-size="8.8" font-weight="bold" stroke="#000" stroke-width="0.2" text-anchor="end">Day 32</text>
<text transform="translate(211.90,222.15) scale(0.78,1) rotate(-89.6)" font-family="Liberation Serif, serif" font-size="8.98" font-weight="bold" stroke="#000" stroke-width="0.2" text-anchor="middle">IgE (OD 490nm)</text>
<text x="202.00" y="163.00" font-family="Liberation Sans, sans-serif" font-size="9.9" stroke="#000" stroke-width="0.2">E</text>
<polyline points="327.50,175.50 327.50,172.80 340.80,172.80 340.80,175.50" fill="none" stroke="#222" stroke-width="0.65"/>
<text transform="translate(334.15,170.40) scale(0.7,1) rotate(0.4)" font-family="Liberation Serif, serif" font-size="8" stroke="#000" stroke-width="0.3" text-anchor="middle">*</text>
<rect x="363.00" y="229.40" width="8.3" height="5.7" rx="0.7" fill="#fff" stroke="#000" stroke-width="1.55"/>
<text transform="translate(376.30,235.50) scale(0.62,1) rotate(0.4)" font-family="Liberation Serif, serif" font-size="10.5" stroke="#000" stroke-width="0.15" text-anchor="start">Naive</text>
<rect x="363.00" y="241.30" width="8.3" height="5.7" rx="0.7" fill="url(#ldots)" stroke="#000" stroke-width="1.55"/>
<text transform="translate(376.30,247.40) scale(0.62,1) rotate(0.4)" font-family="Liberation Serif, serif" font-size="10.5" stroke="#000" stroke-width="0.15" text-anchor="start">Ts</text>
<rect x="363.00" y="253.20" width="8.3" height="5.7" rx="0.7" fill="#fff" stroke="#000" stroke-width="1.55"/>
<text transform="translate(376.30,259.30) scale(0.62,1) rotate(0.4)" font-family="Liberation Serif, serif" font-size="10.5" stroke="#000" stroke-width="0.15" text-anchor="start">RSV</text>
<rect x="363.00" y="265.10" width="8.3" height="5.7" rx="0.7" fill="#000" stroke="#000" stroke-width="1.55"/>
<text transform="translate(376.30,271.20) scale(0.62,1) rotate(0.4)" font-family="Liberation Serif, serif" font-size="10.5" stroke="#000" stroke-width="0.15" text-anchor="start">RSV-Ts</text>
<line x1="452.80" y1="257.97" x2="452.80" y2="257.42" stroke="#000" stroke-width="1.25"/>
<line x1="450.60" y1="257.72" x2="455.00" y2="257.72" stroke="#000" stroke-width="1.7"/>
<rect x="449.82" y="257.97" width="5.96" height="16.58" fill="#fff" stroke="#000" stroke-width="1.3"/>
<line x1="483.06" y1="252.46" x2="483.06" y2="251.78" stroke="#000" stroke-width="1.25"/>
<line x1="480.86" y1="252.08" x2="485.25" y2="252.08" stroke="#000" stroke-width="1.7"/>
<rect x="480.08" y="252.46" width="5.95" height="22.09" fill="url(#dots)" stroke="#000" stroke-width="1.3"/>
<line x1="489.00" y1="246.68" x2="489.00" y2="246.00" stroke="#000" stroke-width="1.25"/>
<line x1="486.81" y1="246.30" x2="491.20" y2="246.30" stroke="#000" stroke-width="1.7"/>
<rect x="486.03" y="246.68" width="5.95" height="27.87" fill="url(#stripes)" stroke="#000" stroke-width="1.3"/>
<line x1="494.95" y1="244.92" x2="494.95" y2="244.10" stroke="#000" stroke-width="1.25"/>
<line x1="492.75" y1="244.40" x2="497.15" y2="244.40" stroke="#000" stroke-width="1.7"/>
<rect x="491.98" y="244.92" width="5.95" height="29.63" fill="#000" stroke="#000" stroke-width="1.3"/>
<line x1="507.06" y1="201.15" x2="507.06" y2="199.92" stroke="#000" stroke-width="1.25"/>
<line x1="504.86" y1="200.22" x2="509.25" y2="200.22" stroke="#000" stroke-width="1.7"/>
<rect x="504.08" y="201.15" width="5.95" height="73.40" fill="url(#dots)" stroke="#000" stroke-width="1.3"/>
<line x1="513.00" y1="246.00" x2="513.00" y2="245.19" stroke="#000" stroke-width="1.25"/>
<line x1="510.81" y1="245.49" x2="515.21" y2="245.49" stroke="#000" stroke-width="1.7"/>
<rect x="510.03" y="246.00" width="5.95" height="28.55" fill="url(#stripes)" stroke="#000" stroke-width="1.3"/>
<line x1="518.96" y1="184.83" x2="518.96" y2="182.79" stroke="#000" stroke-width="1.25"/>
<line x1="516.75" y1="183.09" x2="521.16" y2="183.09" stroke="#000" stroke-width="1.7"/>
<rect x="515.98" y="184.83" width="5.95" height="89.72" fill="#000" stroke="#000" stroke-width="1.3"/>
<line x1="531.05" y1="204.54" x2="531.05" y2="202.03" stroke="#000" stroke-width="1.25"/>
<line x1="528.85" y1="202.33" x2="533.25" y2="202.33" stroke="#000" stroke-width="1.7"/>
<rect x="528.08" y="204.54" width="5.95" height="70.01" fill="url(#dots)" stroke="#000" stroke-width="1.3"/>
<line x1="537.00" y1="247.36" x2="537.00" y2="246.55" stroke="#000" stroke-width="1.25"/>
<line x1="534.80" y1="246.85" x2="539.21" y2="246.85" stroke="#000" stroke-width="1.7"/>
<rect x="534.03" y="247.36" width="5.95" height="27.19" fill="url(#stripes)" stroke="#000" stroke-width="1.3"/>
<line x1="542.95" y1="181.10" x2="542.95" y2="178.58" stroke="#000" stroke-width="1.25"/>
<line x1="540.75" y1="178.88" x2="545.15" y2="178.88" stroke="#000" stroke-width="1.7"/>
<rect x="539.98" y="181.10" width="5.95" height="93.45" fill="#000" stroke="#000" stroke-width="1.3"/>
<line x1="428.85" y1="172.00" x2="428.85" y2="275.05" stroke="#000" stroke-width="1.35"/>
<line x1="428.35" y1="274.55" x2="549.55" y2="274.55" stroke="#000" stroke-width="1.2"/>
<line x1="426.45" y1="274.55" x2="428.85" y2="274.55" stroke="#000" stroke-width="1.25"/>
<text transform="translate(425.65,277.65) scale(0.68,1) rotate(0.4)" font-family="Liberation Serif, serif" font-size="8.8" font-weight="bold" stroke="#000" stroke-width="0.2" text-anchor="end">0.0</text>
<line x1="426.45" y1="240.57" x2="428.85" y2="240.57" stroke="#000" stroke-width="1.25"/>
<text transform="translate(425.65,243.67) scale(0.68,1) rotate(0.4)" font-family="Liberation Serif, serif" font-size="8.8" font-weight="bold" stroke="#000" stroke-width="0.2" text-anchor="end">0.5</text>
<line x1="426.45" y1="206.58" x2="428.85" y2="206.58" stroke="#000" stroke-width="1.25"/>
<text transform="translate(425.65,209.68) scale(0.68,1) rotate(0.4)" font-family="Liberation Serif, serif" font-size="8.8" font-weight="bold" stroke="#000" stroke-width="0.2" text-anchor="end">1.0</text>
<line x1="426.45" y1="172.60" x2="428.85" y2="172.60" stroke="#000" stroke-width="1.25"/>
<text transform="translate(425.65,175.70) scale(0.68,1) rotate(0.4)" font-family="Liberation Serif, serif" font-size="8.8" font-weight="bold" stroke="#000" stroke-width="0.2" text-anchor="end">1.5</text>
<line x1="452.80" y1="274.55" x2="452.80" y2="277.85" stroke="#000" stroke-width="0.9"/>
<text transform="translate(455.15,286.05) rotate(-52) scale(0.79,0.9)" font-family="Liberation Serif, serif" font-size="8.8" font-weight="bold" stroke="#000" stroke-width="0.2" text-anchor="end">Naive</text>
<line x1="489.00" y1="274.55" x2="489.00" y2="277.85" stroke="#000" stroke-width="0.9"/>
<text transform="translate(491.36,286.05) rotate(-52) scale(0.79,0.9)" font-family="Liberation Serif, serif" font-size="8.8" font-weight="bold" stroke="#000" stroke-width="0.2" text-anchor="end">Day 11</text>
<line x1="513.00" y1="274.55" x2="513.00" y2="277.85" stroke="#000" stroke-width="0.9"/>
<text transform="translate(515.36,286.05) rotate(-52) scale(0.79,0.9)" font-family="Liberation Serif, serif" font-size="8.8" font-weight="bold" stroke="#000" stroke-width="0.2" text-anchor="end">Day 18</text>
<line x1="537.00" y1="274.55" x2="537.00" y2="277.85" stroke="#000" stroke-width="0.9"/>
<text transform="translate(539.35,286.05) rotate(-52) scale(0.79,0.9)" font-family="Liberation Serif, serif" font-size="8.8" font-weight="bold" stroke="#000" stroke-width="0.2" text-anchor="end">Day 32</text>
<text transform="translate(414.20,223.75) scale(0.78,1) rotate(-89.6)" font-family="Liberation Serif, serif" font-size="8.75" font-weight="bold" stroke="#000" stroke-width="0.2" text-anchor="middle">Total IgE (OD 490nm)</text>
<text x="408.80" y="163.00" font-family="Liberation Sans, sans-serif" font-size="9.9" stroke="#000" stroke-width="0.2">F</text>
<polyline points="505.50,173.60 505.50,171.00 519.40,171.00 519.40,173.60" fill="none" stroke="#222" stroke-width="0.65"/>
<text transform="translate(512.45,171.00) scale(0.7,1) rotate(0.4)" font-family="Liberation Serif, serif" font-size="8" stroke="#000" stroke-width="0.3" text-anchor="middle">*</text>
<polyline points="530.70,173.20 530.70,170.50 543.80,170.50 543.80,173.20" fill="none" stroke="#222" stroke-width="0.65"/>
<text transform="translate(537.25,170.50) scale(0.7,1) rotate(0.4)" font-family="Liberation Serif, serif" font-size="8" stroke="#000" stroke-width="0.3" text-anchor="middle">*</text>
<rect x="564.90" y="227.60" width="8.3" height="5.7" rx="0.7" fill="#fff" stroke="#000" stroke-width="1.55"/>
<text transform="translate(578.20,233.70) scale(0.62,1) rotate(0.4)" font-family="Liberation Serif, serif" font-size="10.5" stroke="#000" stroke-width="0.15" text-anchor="start">Naive</text>
<rect x="564.90" y="239.50" width="8.3" height="5.7" rx="0.7" fill="url(#ldots)" stroke="#000" stroke-width="1.55"/>
<text transform="translate(578.20,245.60) scale(0.62,1) rotate(0.4)" font-family="Liberation Serif, serif" font-size="10.5" stroke="#000" stroke-width="0.15" text-anchor="start">Ts</text>
<rect x="564.90" y="251.40" width="8.3" height="5.7" rx="0.7" fill="url(#lstripe)" stroke="#000" stroke-width="1.55"/>
<text transform="translate(578.20,257.50) scale(0.62,1) rotate(0.4)" font-family="Liberation Serif, serif" font-size="10.5" stroke="#000" stroke-width="0.15" text-anchor="start">RSV</text>
<rect x="564.90" y="263.30" width="8.3" height="5.7" rx="0.7" fill="#000" stroke="#000" stroke-width="1.55"/>
<text transform="translate(578.20,269.40) scale(0.62,1) rotate(0.4)" font-family="Liberation Serif, serif" font-size="10.5" stroke="#000" stroke-width="0.15" text-anchor="start">RSV-Ts</text>
</svg>
</body></html>
